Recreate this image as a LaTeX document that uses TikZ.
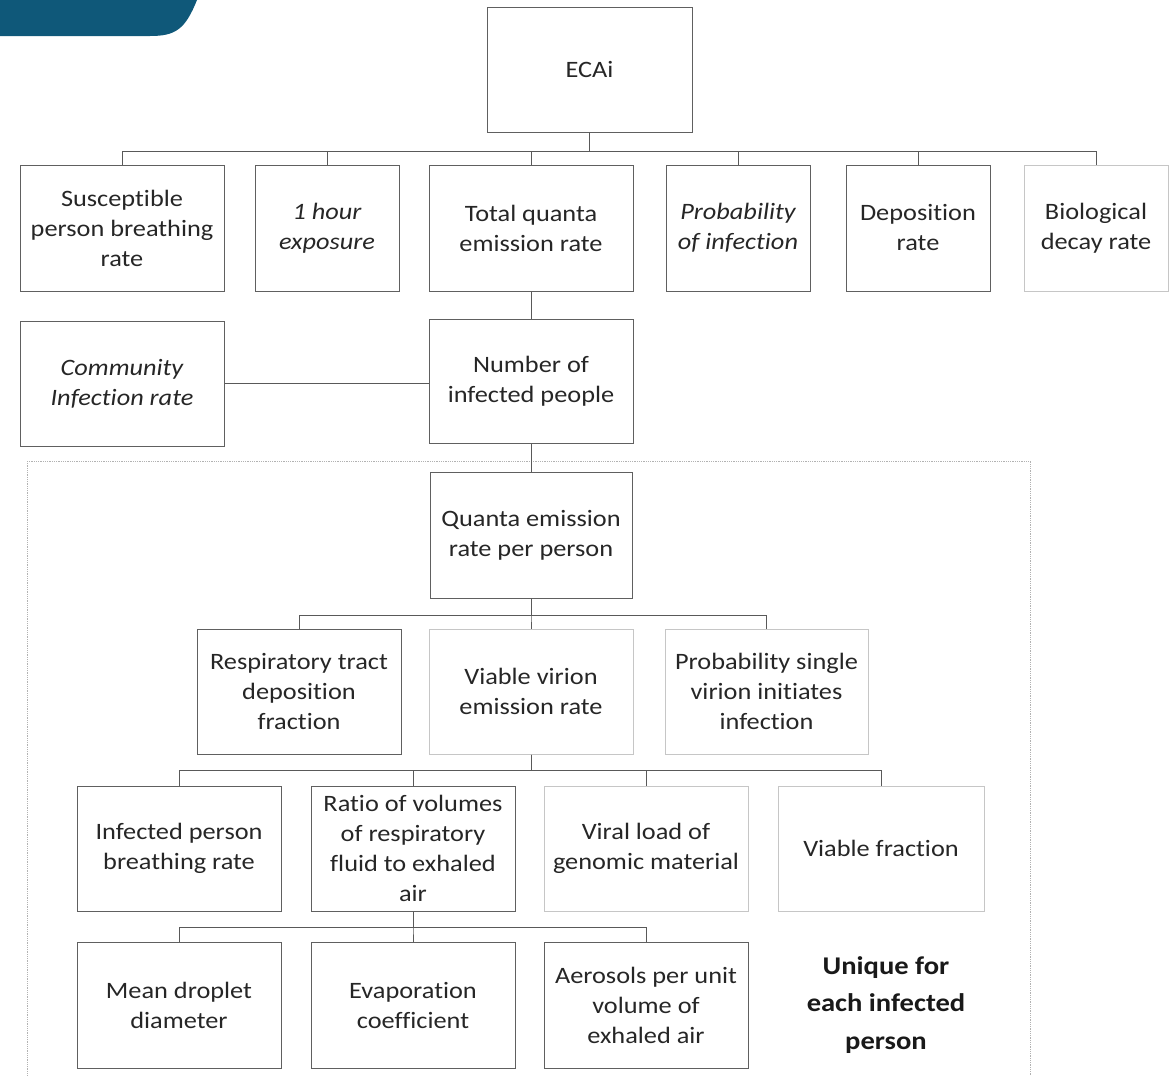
\documentclass[tikz,border=0pt]{standalone}
\usepackage{fontspec}
\setmainfont{Carlito}[FakeStretch=1.12, Ligatures=NoCommon]
\usepackage{tikz}
\usetikzlibrary{positioning,calc}
\definecolor{tabblue}{HTML}{0F5879}

\begin{document}
\begin{tikzpicture}[
    x=1pt, y=-1pt,
    font=\fontsize{23.5}{30}\selectfont,
    box/.style={draw=gray!75!black, line width=1pt, text=black!85, align=center,
                minimum width=204pt, minimum height=126pt, inner sep=2pt},
    nbox/.style={box, minimum width=144pt},
    lbox/.style={box, draw=gray!45},
    link/.style={gray!70!black, line width=1pt},
  ]
  \useasboundingbox (0,0) rectangle (1176,1076);
  % slide tab
  \fill[tabblue] (0,0) -- (197,0) .. controls (185,30) and (175,36) .. (150,36) -- (0,36) -- cycle;

  % dashed group frame
  \draw[gray!60, line width=0.8pt, densely dotted] (27,461) rectangle (1030,1100);

  % root
  \node[box, minimum width=205pt, minimum height=125pt] (ecai) at (589.5,69.5) {ECAi};

  % first row
  \node[box] (sus) at (122,228) {Susceptible\\person breathing\\rate};
  \node[nbox, right=30pt of sus] (hour) {\itshape 1 hour\\\itshape exposure};
  \node[box, right=29pt of hour] (total) {Total quanta\\emission rate};
  \node[nbox, right=32pt of total] (prob) {\itshape Probability\\\itshape of infection};
  \node[nbox, right=35pt of prob] (depo) {Deposition\\rate};
  \node[lbox, minimum width=144pt, right=33pt of depo] (bio) {Biological\\decay rate};

  % infected people
  \node[box, minimum height=124pt, below=27pt of total] (num) {Number of\\infected people};
  \node[box, minimum height=125pt] (comm) at (122,383.5) {\itshape Community\\\itshape Infection rate};

  % per person part
  \node[box, minimum width=202pt, below=28pt of num] (quanta) {Quanta emission\\rate per person};
  \node[lbox, minimum height=125pt, below=30pt of quanta] (viab) {Viable virion\\emission rate};
  \node[box, minimum height=125pt, left=27pt of viab] (resp) {Respiratory tract\\deposition\\fraction};
  \node[lbox, minimum height=125pt, minimum width=203pt, right=31pt of viab] (psing) {Probability single\\virion initiates\\infection};

  \node[box, minimum height=125pt] (inf) at (179,848.5) {Infected person\\breathing rate};
  \node[box, minimum height=125pt, right=29pt of inf] (ratio) {Ratio of volumes\\of respiratory\\fluid to exhaled\\air};
  \node[lbox, minimum height=125pt, right=28pt of ratio] (viral) {Viral load of\\genomic material};
  \node[lbox, minimum height=125pt, minimum width=206pt, right=29pt of viral] (vfrac) {Viable fraction};

  \node[box] (mean) at (179,1005) {Mean droplet\\diameter};
  \node[box, right=29pt of mean] (evap) {Evaporation\\coefficient};
  \node[box, right=28pt of evap] (aero) {Aerosols per unit\\volume of\\exhaled air};

  \node[font=\fontsize{25.5}{37.5}\selectfont\bfseries, text=black!90, align=center]
    (uniq) at (886,1005) {Unique for\\each infected\\person};

  % connectors
  \foreach \n in {sus,hour,total,prob,depo,bio}
    \draw[link] (ecai.south) -- ++(0,19) -| (\n.north);
  \draw[link] (total.south) -- (num.north);
  \draw[link] (comm.east -| num.west) -- (comm.east);
  \draw[link] (num.south) -- (num.south |- quanta.north);
  \foreach \n in {resp,viab,psing}
    \draw[link] (quanta.south) -- ++(0,17) -| (\n.north);
  \foreach \n in {inf,ratio,viral,vfrac}
    \draw[link] (viab.south) -- ++(0,16) -| (\n.north);
  \foreach \n in {mean,evap,aero}
    \draw[link] (ratio.south) -- ++(0,16) -| (\n.north);
\end{tikzpicture}
\end{document}
